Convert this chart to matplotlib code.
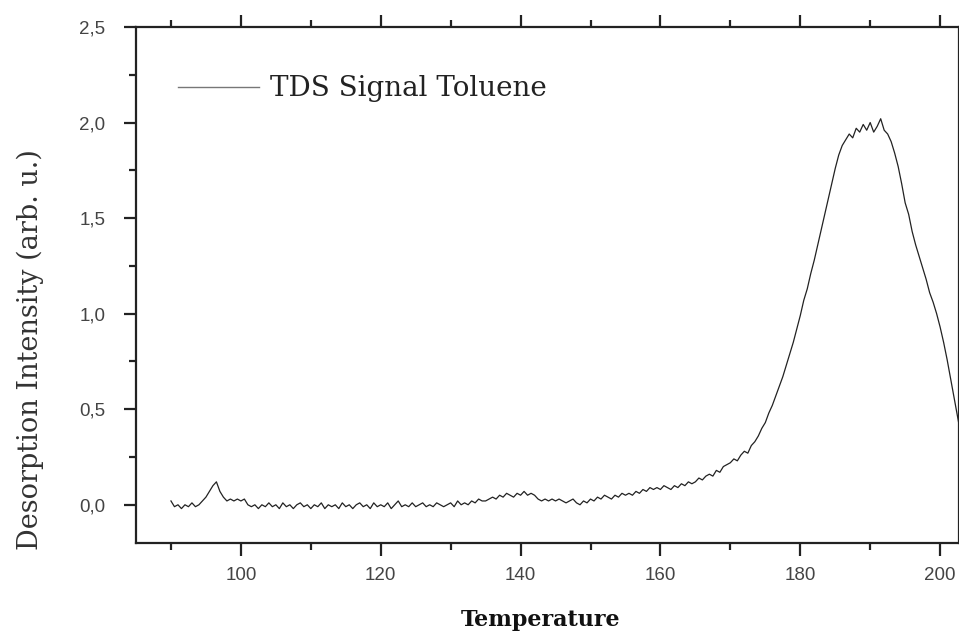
import numpy as np
import matplotlib
matplotlib.use("Agg")
import matplotlib.pyplot as plt
from matplotlib.ticker import MultipleLocator, FuncFormatter

# TDS trace, 0.5 K steps from 90 K
temp_start = 90.0
temp_step = 0.5
signal = [
    0.02, -0.01, 0.00, -0.02, 0.00, -0.01, 0.01, -0.01, 0.00, 0.02,   # 90
    0.04, 0.07, 0.10, 0.12, 0.07, 0.04, 0.02, 0.03, 0.02, 0.03,       # 95
    0.02, 0.03, 0.00, -0.01, 0.00, -0.02, 0.00, -0.01, 0.01, -0.01,   # 100
    0.00, -0.02, 0.01, -0.01, 0.00, -0.02, 0.00, 0.01, -0.01, 0.00,   # 105
    -0.02, 0.00, -0.01, 0.01, -0.02, 0.00, -0.01, 0.00, -0.02, 0.01,  # 110
    -0.01, 0.00, -0.02, 0.00, 0.01, -0.01, 0.00, -0.02, 0.01, -0.01,  # 115
    0.00, -0.01, 0.01, -0.02, 0.00, 0.02, -0.01, 0.00, -0.01, 0.01,   # 120
    -0.01, 0.00, 0.01, -0.01, 0.00, -0.01, 0.01, 0.00, -0.01, 0.00,   # 125
    0.01, -0.01, 0.02, 0.00, 0.01, 0.00, 0.02, 0.01, 0.03, 0.02,      # 130
    0.02, 0.03, 0.04, 0.03, 0.05, 0.04, 0.06, 0.05, 0.04, 0.06,       # 135
    0.05, 0.07, 0.05, 0.06, 0.05, 0.03, 0.02, 0.03, 0.02, 0.03,       # 140
    0.02, 0.03, 0.02, 0.01, 0.02, 0.03, 0.01, 0.00, 0.02, 0.01,       # 145
    0.03, 0.02, 0.04, 0.03, 0.05, 0.04, 0.03, 0.05, 0.04, 0.06,       # 150
    0.05, 0.06, 0.05, 0.07, 0.06, 0.08, 0.07, 0.09, 0.08, 0.09,       # 155
    0.08, 0.10, 0.09, 0.08, 0.10, 0.09, 0.11, 0.10, 0.12, 0.11,       # 160
    0.12, 0.14, 0.13, 0.15, 0.16, 0.15, 0.18, 0.17, 0.20, 0.21,       # 165
    0.22, 0.24, 0.23, 0.26, 0.28, 0.27, 0.31, 0.33, 0.36, 0.40,       # 170
    0.43, 0.48, 0.52, 0.57, 0.62, 0.67, 0.73, 0.79, 0.85, 0.92,       # 175
    0.99, 1.07, 1.13, 1.21, 1.28, 1.36, 1.44, 1.52, 1.60, 1.68,       # 180
    1.76, 1.83, 1.88, 1.91, 1.94, 1.92, 1.97, 1.95, 1.99, 1.96,       # 185
    2.00, 1.95, 1.98, 2.02, 1.96, 1.94, 1.90, 1.84, 1.77, 1.68,       # 190
    1.58, 1.52, 1.43, 1.36, 1.30, 1.24, 1.18, 1.11, 1.06, 1.00,       # 195
    0.93, 0.85, 0.76, 0.66, 0.56, 0.46, 0.36,                         # 200
]
temperature = temp_start + temp_step * np.arange(len(signal))

label_series = "TDS Signal Toluene"
label_x = "Temperature"
label_y = "Desorption Intensity (arb. u.)"

serif = ["DejaVu Serif"]
sans = ["Liberation Sans", "DejaVu Sans"]

fig = plt.figure(figsize=(9.59, 6.31), dpi=100)
ax = fig.add_axes([136/959, 1 - 543/631, (959 - 136)/959, (543 - 27)/631])

ax.plot(temperature, signal, color="#222222", lw=0.9, label=label_series)

ax.set_xlim(85, 202.7)
ax.set_ylim(-0.2, 2.5)

ax.xaxis.set_major_locator(MultipleLocator(20))
ax.xaxis.set_minor_locator(MultipleLocator(10))
ax.yaxis.set_major_locator(MultipleLocator(0.5))
ax.yaxis.set_minor_locator(MultipleLocator(0.25))
ax.yaxis.set_major_formatter(FuncFormatter(lambda v, p: f"{v:.1f}".replace(".", ",")))

ax.tick_params(which="both", direction="out", top=True, right=False,
               color="#222222", width=1.6, labelcolor="#444444")
ax.tick_params(which="major", length=9, labelsize=13.5)
ax.tick_params(axis="x", which="major", pad=8)
ax.tick_params(axis="y", which="major", pad=13)
ax.tick_params(which="minor", length=5)
for lab in ax.get_xticklabels() + ax.get_yticklabels():
    lab.set_family(sans)

for side in ["left", "bottom", "top", "right"]:
    ax.spines[side].set_linewidth(1.6)
    ax.spines[side].set_color("#222222")

ax.set_xlabel(label_x, family=serif, fontsize=16, fontweight="bold", color="#111111")
ax.xaxis.set_label_coords(0.491, -0.128)
ax.set_ylabel(label_y, family=serif, fontsize=19.5, color="#333333")
ax.yaxis.set_label_coords(-0.112, 0.374)

leg = ax.legend(loc="center left", bbox_to_anchor=(0.051, 0.880), frameon=False,
                borderpad=0, borderaxespad=0, handlelength=2.9, handletextpad=0.4,
                prop={"family": serif, "size": 20})
for h in leg.get_lines():
    h.set_color("#777777")
    h.set_linewidth(1.0)
for t in leg.get_texts():
    t.set_color("#222222")

fig.savefig("out.png", dpi=100)
